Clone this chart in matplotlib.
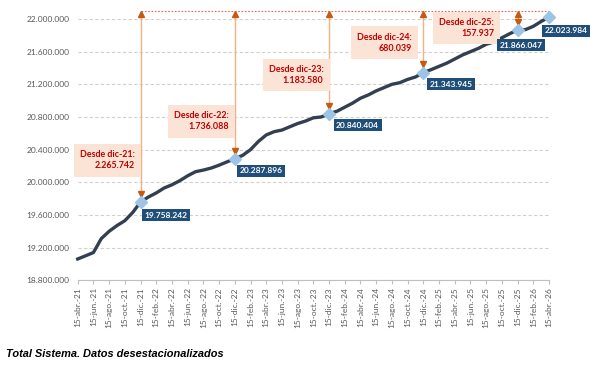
import numpy as np
import matplotlib
matplotlib.use('Agg')
from matplotlib import pyplot as plt


# Monthly values (15th of each month), abr-21 .. abr-26
months_es = ['ene', 'feb', 'mar', 'abr', 'may', 'jun', 'jul', 'ago', 'sep', 'oct', 'nov', 'dic']
start_month = 3  # abril
start_year = 21

values = [
    19061000, 19100000, 19140000, 19310000, 19400000, 19470000, 19530000, 19630000, 19758242,
    19820000, 19870000, 19930000, 19970000, 20020000, 20080000, 20130000, 20150000, 20175000,
    20210000, 20250000, 20287896,
    20330000, 20400000, 20500000, 20580000, 20620000, 20640000, 20680000, 20720000, 20750000,
    20790000, 20800000, 20840404,
    20870000, 20920000, 20970000, 21030000, 21070000, 21120000, 21160000, 21200000, 21220000,
    21260000, 21290000, 21343945,
    21380000, 21420000, 21460000, 21510000, 21560000, 21600000, 21640000, 21690000, 21720000,
    21770000, 21820000, 21866047,
    21870000, 21910000, 21970000, 22023984,
]

# Highlighted points (December of each year plus the last one)
highlight_idx = [8, 20, 32, 44, 56, 60]
since_labels = ['Desde dic-21:', 'Desde dic-22:', 'Desde dic-23:', 'Desde dic-24:', 'Desde dic-25:']

footer = 'Total Sistema. Datos desestacionalizados'


def fmt_es(v):
    return f'{v:,.0f}'.replace(',', '.')


labels = []
for i in range(len(values)):
    m = (start_month + i) % 12
    y = start_year + (start_month + i) // 12
    labels.append(f'15-{months_es[m]}.-{y}')

x = np.arange(len(values))
last = values[-1]
top_level = 22094000

# Figure
px = 1 / 100
fig = plt.figure(figsize=(590 * px, 379 * px), dpi=100)
ax = fig.add_axes([77.7 / 590, 1 - 280.3 / 379, (549 - 77.7) / 590, (280.3 - 19) / 379])

ax.set_xlim(0, len(values) - 1)
ax.set_ylim(18800000, 22000000)
ax.set_yticks(np.arange(18800000, 22000001, 400000))
ax.set_yticklabels([fmt_es(v) for v in ax.get_yticks()], fontsize=6.0, color='#595959', family='Lato')
ax.set_xticks(x[::2])
ax.set_xticklabels(labels[::2], rotation=90, fontsize=6.0, color='#595959', family='Lato')
ax.tick_params(axis='y', length=0, pad=6)
ax.tick_params(axis='x', length=3, color='#BFBFBF', pad=2)

for s in ['top', 'right', 'left']:
    ax.spines[s].set_visible(False)
ax.spines['bottom'].set_color('#BFBFBF')
ax.grid(axis='y', linestyle=(0, (3, 2)), color='#D0D0D0', linewidth=0.8)
ax.set_axisbelow(True)

# Main line
ax.plot(x, values, color='#333F50', linewidth=2.4, zorder=3, clip_on=False)

# Top dotted reference line
ax.hlines(top_level, highlight_idx[0], x[-1], color='#E06666', linestyle=(0, (1.5, 1.5)),
          linewidth=0.8, clip_on=False, zorder=2)

# Arrows from each December to the top line
box_offsets = [(-4, 30), (-4, 27), (-4, 28), (-8, 21.5), (-17, 1.5)]
for k, idx in enumerate(highlight_idx[:-1]):
    v = values[idx]
    ax.vlines(idx, v + 60000, top_level, color='#F4B183', linewidth=1.0, clip_on=False, zorder=2)
    ax.plot(idx, top_level - 35000, marker='^', markersize=4, color='#C55A11', clip_on=False, zorder=4)
    ax.plot(idx, v + 100000, marker='v', markersize=4, color='#C55A11', clip_on=False, zorder=4)
    dx, dy = box_offsets[k]
    ax.annotate(f'{since_labels[k]}\n{fmt_es(last - v)}', xy=(idx, v), xytext=(dx, dy),
                textcoords='offset points', ha='right', va='center', multialignment='right',
                fontsize=6.4, fontweight='bold', color='#C00000', family='Lato',
                linespacing=1.3, annotation_clip=False, zorder=5,
                bbox=dict(boxstyle='square,pad=0.7', fc='#FBE3D5', ec='none'))

# Highlight markers and value labels
label_offsets = [(3, -9.5), (3.5, -8.5), (5, -8.5), (4.5, -8.5), (-13, -11), (-3, -10)]
for k, idx in enumerate(highlight_idx):
    v = values[idx]
    ax.plot(idx, v, marker='D', markersize=6, color='#9DC3E6', markeredgecolor='#9DC3E6',
            clip_on=False, zorder=6)
    dx, dy = label_offsets[k]
    ax.annotate(fmt_es(v), xy=(idx, v), xytext=(dx, dy), textcoords='offset points',
                ha='left', va='center', fontsize=6.0, fontweight='bold', color='white',
                family='Lato', annotation_clip=False, zorder=7,
                bbox=dict(boxstyle='square,pad=0.3', fc='#1F4E79', ec='none'))

# Footer
fig.text(6 / 590, 1 - 354 / 379, footer, fontsize=7.9, fontweight='bold', fontstyle='italic',
         family='Liberation Sans', color='black', va='center', ha='left')

fig.savefig('out.png', dpi=100)
